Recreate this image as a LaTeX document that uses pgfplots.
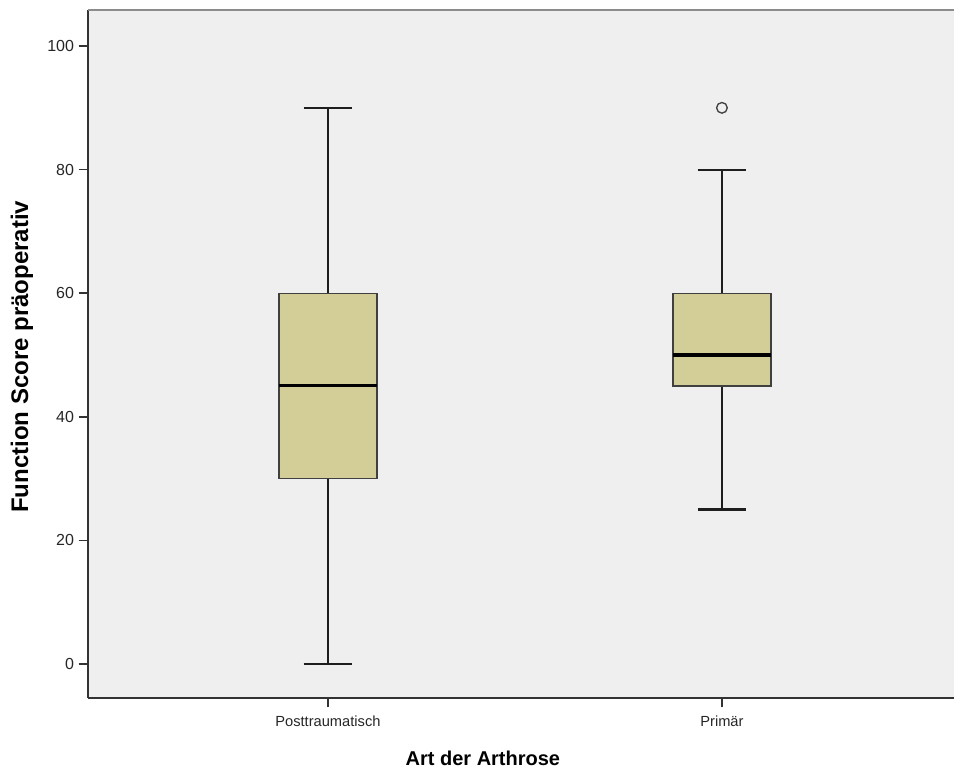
\documentclass[border=0pt]{standalone}
\usepackage{fontspec}
\setmainfont{Liberation Sans}
\usepackage{pgfplots}
\pgfplotsset{compat=1.18}
\usepgfplotslibrary{statistics}

\definecolor{plotbg}{RGB}{239,239,239}
\definecolor{boxfill}{RGB}{211,206,151}
\definecolor{linedark}{RGB}{30,30,30}
\definecolor{framegray}{RGB}{140,140,140}

\begin{document}
\begin{tikzpicture}
\begin{axis}[
  scale only axis,
  width=649.5pt, height=516pt,
  xmin=0.391, xmax=2.589,
  ymin=-5.5, ymax=105.83,
  axis x line*=bottom,
  axis y line*=left,
  axis line style={line width=1.1pt, draw=black!80},
  axis background/.style={fill=plotbg},
  tick align=outside,
  major tick length=7pt,
  tick style={line width=1.1pt, draw=black!80},
  xtick={1,2},
  xticklabels={Posttraumatisch, Primär},
  ytick={0,20,40,60,80,100},
  /pgf/number format/assume math mode=true,
  xticklabel style={font=\fontsize{11}{13}\selectfont, text=black!85, yshift=-2.5pt},
  yticklabel style={font=\fontsize{12}{14}\selectfont, text=black!85},
  xlabel={Art der Arthrose},
  ylabel={Function Score präoperativ},
  xlabel style={font=\fontsize{15}{18}\bfseries, at={(axis description cs:0.456,0)}, anchor=center, yshift=-45pt},
  ylabel style={font=\fontsize{18}{21}\bfseries, at={([xshift=-49.5pt]axis description cs:0,0.496)}, anchor=center},
  boxplot/draw direction=y,
  boxplot/box extend=0.249,
  boxplot/whisker extend=0.124,
  boxplot/every box/.style={draw=black!75, fill=boxfill, line width=1pt},
  boxplot/every whisker/.style={draw=linedark, line width=1.6pt},
  boxplot/every median/.style={draw=black, line width=2.3pt},
  clip=false,
]
% Posttraumatisch
\addplot[boxplot prepared={
    lower whisker=0, lower quartile=30, median=45,
    upper quartile=60, upper whisker=90, draw position=1}]
  coordinates {};
% Primär
\addplot[boxplot prepared={
    lower whisker=25, lower quartile=45, median=50,
    upper quartile=60, upper whisker=80, draw position=2}]
  coordinates {};
% outlier of the Primär group
\addplot[only marks, mark=o, mark size=4pt, mark options={draw=black!75, line width=1pt}]
  coordinates {(2,90)};
% top frame line
\draw[framegray, line width=1.6pt] (rel axis cs:0,1) -- (rel axis cs:1,1);
\end{axis}
\pgfresetboundingbox
\path ([shift={(-66pt,-53.25pt)}]current axis.south west) rectangle ([shift={(0pt,7.5pt)}]current axis.north east);
\end{tikzpicture}
\end{document}
